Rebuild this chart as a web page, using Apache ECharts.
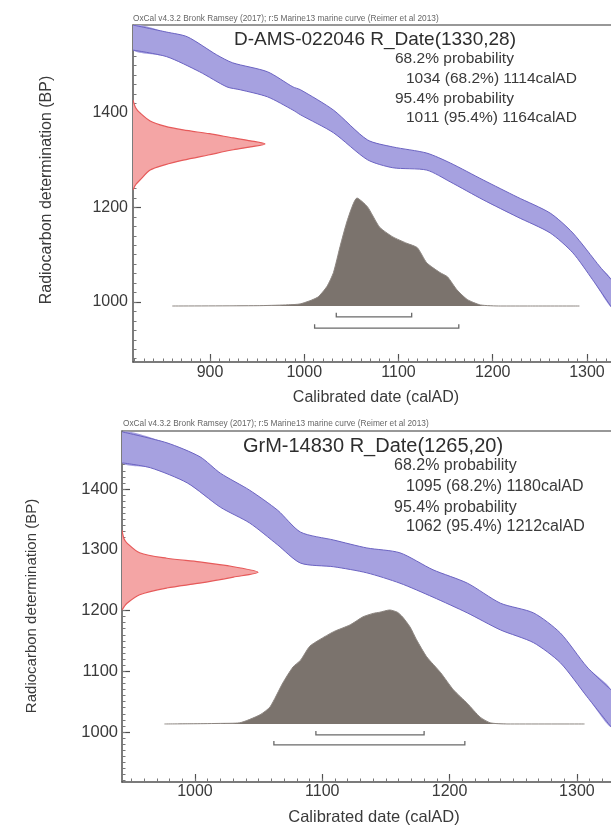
<!DOCTYPE html>
<html><head><meta charset="utf-8">
<script src="https://cdn.jsdelivr.net/npm/echarts@6/dist/echarts.min.js"></script>
<style>html,body{margin:0;padding:0;background:#fff}#c{width:611px;height:832px}</style>
</head><body><div id="c"></div>
<script>
// ---------- text ----------
const oxcalText = 'OxCal v4.3.2 Bronk Ramsey (2017); r:5 Marine13 marine curve (Reimer et al 2013)';
const xName = 'Calibrated date (calAD)';
const yName = 'Radiocarbon determination (BP)';
const topTitle = 'D-AMS-022046 R_Date(1330,28)';
const topLines = ['68.2% probability', '1034 (68.2%) 1114calAD', '95.4% probability', '1011 (95.4%) 1164calAD'];
const botTitle = 'GrM-14830 R_Date(1265,20)';
const botLines = ['68.2% probability', '1095 (68.2%) 1180calAD', '95.4% probability', '1062 (95.4%) 1212calAD'];

// ---------- ticks ----------
const topXTicks = [900, 1000, 1100, 1200, 1300];
const topYTicks = [1000, 1200, 1400];
const botXTicks = [1000, 1100, 1200, 1300];
const botYTicks = [1000, 1100, 1200, 1300, 1400];

// ---------- top chart data (D-AMS-022046) ----------
const topUpperYears = [818, 854, 876, 907, 924, 961, 988, 996, 1031, 1067, 1094, 1130, 1155, 1190, 1226, 1261, 1285, 1314, 1326];
const topUpperBP    = [1586, 1571, 1561, 1523, 1506, 1487, 1455, 1449, 1406, 1343, 1328, 1315, 1294, 1258, 1222, 1188, 1146, 1074, 1047];
const topLowerYears = [818, 854, 889, 918, 932, 961, 988, 996, 1031, 1067, 1094, 1130, 1155, 1190, 1226, 1261, 1285, 1306, 1326];
const topLowerBP    = [1533, 1519, 1487, 1455, 1449, 1434, 1406, 1396, 1358, 1301, 1284, 1279, 1254, 1216, 1180, 1146, 1104, 1047, 989];
const topRedBP      = [1427, 1411, 1400, 1383, 1372, 1364, 1356, 1347, 1341, 1334, 1328, 1322, 1311, 1300, 1290, 1279, 1258, 1248, 1237];
const topRedDensity = [0, 0.02, 0.053, 0.13, 0.24, 0.38, 0.58, 0.76, 0.89, 1.0, 0.89, 0.76, 0.57, 0.38, 0.24, 0.13, 0.053, 0.02, 0];
const topCalYears   = [860, 950, 980, 996, 1014, 1024, 1031, 1038, 1046, 1056, 1067, 1080, 1094, 1109, 1120, 1130, 1144, 1152, 1162, 1173, 1187, 1208, 1240, 1292];
const topCalDensity = [0, 0.003, 0.01, 0.02, 0.08, 0.18, 0.31, 0.55, 0.80, 1.0, 0.92, 0.73, 0.64, 0.58, 0.54, 0.40, 0.31, 0.27, 0.15, 0.06, 0.01, 0, 0, 0];
const topRange68 = [1034, 1114];
const topRange95 = [1011, 1164];

// ---------- bottom chart data (GrM-14830) ----------
const botUpperYears = [943, 978, 1004, 1020, 1043, 1065, 1083, 1109, 1135, 1161, 1187, 1214, 1240, 1266, 1287, 1308, 1327];
const botUpperBP    = [1494, 1476, 1453, 1426, 1398, 1365, 1329, 1316, 1303, 1295, 1267, 1245, 1212, 1196, 1163, 1107, 1069];
const botLowerYears = [943, 965, 994, 1020, 1043, 1065, 1083, 1109, 1135, 1161, 1187, 1214, 1240, 1266, 1287, 1308, 1327];
const botLowerBP    = [1443, 1435, 1410, 1370, 1344, 1308, 1278, 1272, 1262, 1245, 1222, 1196, 1168, 1147, 1114, 1058, 1008];
const botRedBP      = [1332, 1318, 1311, 1295, 1286, 1280, 1272, 1263, 1255, 1245, 1237, 1226, 1212, 1206, 1201];
const botRedDensity = [0, 0.015, 0.037, 0.13, 0.33, 0.57, 0.82, 1.0, 0.82, 0.57, 0.33, 0.13, 0.037, 0.015, 0];
const botCalYears   = [976, 1000, 1020, 1035, 1051, 1059, 1069, 1077, 1083, 1090, 1098, 1109, 1122, 1132, 1140, 1145, 1153, 1159, 1163, 1169, 1174, 1182, 1193, 1203, 1214, 1224, 1232, 1245, 1306];
const botCalDensity = [0, 0.002, 0.005, 0.01, 0.08, 0.15, 0.36, 0.50, 0.56, 0.68, 0.74, 0.81, 0.87, 0.94, 0.97, 0.98, 1.0, 0.98, 0.94, 0.85, 0.74, 0.59, 0.45, 0.30, 0.18, 0.06, 0.01, 0, 0];
const botRange68 = [1095, 1180];
const botRange95 = [1062, 1212];

// ---------- styles ----------
const FONT = 'Liberation Sans, Arial, sans-serif';
const TXT = '#3a3a3a';
const AX = '#505050';
const BAND_FILL = '#a6a1e0', BAND_EDGE = '#6b63c2';
const RED_FILL = '#f4a5a5', RED_EDGE = '#e65a5a';
const GRAY_FILL = '#7b736d';

const chart = echarts.init(document.getElementById('c'), null, {renderer: 'canvas'});

function range(a, b, s) { const r = []; for (let v = a; v <= b + 1e-9; v += s) r.push(v); return r; }

function zipPts(api, xs, ys) { return xs.map((x, i) => api.coord([x, ys[i]])); }

function bandSeries(xi, yi, uX, uY, lX, lY) {
  return {
    type: 'custom', xAxisIndex: xi, yAxisIndex: yi, clip: true, z: 2,
    data: [[uX[0], uY[0]]],
    renderItem: (p, api) => {
      const up = zipPts(api, uX, uY), lo = zipPts(api, lX, lY);
      return {type: 'group', children: [
        {type: 'polygon', shape: {points: up.concat(lo.slice().reverse()), smooth: 0.25}, style: {fill: BAND_FILL}},
        {type: 'polyline', shape: {points: up, smooth: 0.25}, style: {fill: 'none', stroke: BAND_EDGE, lineWidth: 1}},
        {type: 'polyline', shape: {points: lo, smooth: 0.25}, style: {fill: 'none', stroke: BAND_EDGE, lineWidth: 1}}
      ]};
    }
  };
}

function redSeries(xi, yi, dens, bp) {
  return {
    type: 'custom', xAxisIndex: xi, yAxisIndex: yi, clip: true, z: 3,
    data: [[0, bp[0]]],
    renderItem: (p, api) => {
      const pts = zipPts(api, dens, bp);
      return {type: 'group', children: [
        {type: 'polygon', shape: {points: pts, smooth: 0.3}, style: {fill: RED_FILL}},
        {type: 'polyline', shape: {points: pts, smooth: 0.3}, style: {fill: 'none', stroke: RED_EDGE, lineWidth: 1.2}}
      ]};
    }
  };
}

function calSeries(xi, yi, yrs, dens) {
  return {
    type: 'line', xAxisIndex: xi, yAxisIndex: yi, z: 4, symbol: 'none', smooth: 0.2,
    data: yrs.map((y, i) => [y, dens[i]]),
    lineStyle: {color: '#8d8681', width: 1},
    areaStyle: {color: GRAY_FILL, opacity: 1}
  };
}

function bracketSeries(xi, yi, r68, r95, lev68, lev95, cap) {
  return {
    type: 'custom', xAxisIndex: xi, yAxisIndex: yi, z: 5,
    data: [[r68[0], r68[1], lev68], [r95[0], r95[1], lev95]],
    renderItem: (p, api) => {
      const a = api.coord([api.value(0), api.value(2)]);
      const b = api.coord([api.value(1), api.value(2)]);
      return {type: 'polyline', shape: {points: [[a[0], a[1] - cap], a, b, [b[0], b[1] - cap]]},
        style: {fill: 'none', stroke: '#6a6a6a', lineWidth: 1.3}};
    }
  };
}

const plain = v => String(v);

function axesFor(g, xMin, xMax, yMin, yMax, xTicks, yTicks, yMinorStep, redMax, grayMin, grayMax, labelSize, yLabelSize, xMargin, yMargin) {
  const lab = {color: TXT, fontFamily: FONT, formatter: plain};
  const xs = [
    {type: 'value', gridIndex: g, min: xMin, max: xMax, position: 'bottom',
     axisLine: {show: true, onZero: false, lineStyle: {color: AX, width: 1.5}},
     axisTick: {show: true, inside: true, length: 8, customValues: xTicks, lineStyle: {color: AX, width: 1.2}},
     axisLabel: Object.assign({customValues: xTicks, fontSize: labelSize, margin: xMargin}, lab),
     splitLine: {show: false}},
    {type: 'value', gridIndex: g, min: xMin, max: xMax, position: 'bottom',
     axisLine: {show: false, onZero: false},
     axisTick: {show: true, inside: true, length: 3.5, customValues: range(Math.ceil(xMin / 10) * 10, xMax, 10), lineStyle: {color: '#777', width: 1}},
     axisLabel: {show: false}, splitLine: {show: false}},
    {type: 'value', gridIndex: g, min: xMin, max: xMax, position: 'top',
     axisLine: {show: true, onZero: false, lineStyle: {color: '#777', width: 1.5}},
     axisTick: {show: false}, axisLabel: {show: false}, splitLine: {show: false}},
    {type: 'value', gridIndex: g, min: 0, max: redMax, show: false, axisLine: {onZero: false}}
  ];
  const ys = [
    {type: 'value', gridIndex: g, min: yMin, max: yMax, position: 'left',
     axisLine: {show: true, onZero: false, lineStyle: {color: AX, width: 1.5}},
     axisTick: {show: true, inside: true, length: 8, customValues: yTicks, lineStyle: {color: AX, width: 1.2}},
     axisLabel: Object.assign({customValues: yTicks, fontSize: yLabelSize, margin: yMargin}, lab),
     splitLine: {show: false}},
    {type: 'value', gridIndex: g, min: yMin, max: yMax, position: 'left',
     axisLine: {show: false, onZero: false},
     axisTick: {show: true, inside: true, length: 3.5, customValues: range(Math.ceil(yMin / yMinorStep) * yMinorStep, yMax, yMinorStep), lineStyle: {color: '#777', width: 1}},
     axisLabel: {show: false}, splitLine: {show: false}},
    {type: 'value', gridIndex: g, min: grayMin, max: grayMax, show: false, axisLine: {onZero: false}}
  ];
  return {xs, ys};
}

const A0 = axesFor(0, 818.3, 1325.5, 873, 1586, topXTicks, topYTicks, 20, 3.62, -0.5185, 2.602, 16, 16, 3, 5);
const A1 = axesFor(1, 942.7, 1326.8, 917.7, 1495.5, botXTicks, botYTicks, 10, 3.596, -0.509, 2.570, 16, 16.5, 2, 4);

function txt(x, y, text, size, opts) {
  return Object.assign({type: 'text', x, y, silent: true,
    style: Object.assign({text, fontSize: size, fontFamily: FONT, fill: TXT, textAlign: 'left', textVerticalAlign: 'middle'}, (opts && opts.style) || {})},
    opts && opts.rotation ? {rotation: opts.rotation} : {});
}

const graphics = [
  txt(133, 19, oxcalText, 8.3, {style: {fill: '#666'}}),
  txt(375, 40, topTitle, 19, {style: {textAlign: 'center', fill: '#2e2e2e'}}),
  txt(395, 59, topLines[0], 15.5),
  txt(406, 79, topLines[1], 15.5),
  txt(395, 99, topLines[2], 15.5),
  txt(406, 118, topLines[3], 15.5),
  txt(47, 190, yName, 16, {rotation: Math.PI / 2, style: {textAlign: 'center'}}),
  txt(376, 398, xName, 16, {style: {textAlign: 'center'}}),

  txt(123, 424, oxcalText, 8.3, {style: {fill: '#666'}}),
  txt(373, 446, botTitle, 20, {style: {textAlign: 'center', fill: '#2e2e2e'}}),
  txt(394, 466, botLines[0], 16),
  txt(406, 487, botLines[1], 16),
  txt(394, 508, botLines[2], 16),
  txt(406, 527, botLines[3], 16),
  txt(32, 606, yName, 15, {rotation: Math.PI / 2, style: {textAlign: 'center'}}),
  txt(374, 817, xName, 16.5, {style: {textAlign: 'center'}})
];

chart.setOption({
  backgroundColor: '#fff',
  animation: false,
  grid: [
    {left: 133, top: 25, width: 478, height: 337},
    {left: 122, top: 431, width: 489, height: 351}
  ],
  xAxis: A0.xs.concat(A1.xs),
  yAxis: A0.ys.concat(A1.ys),
  series: [
    bandSeries(0, 0, topUpperYears, topUpperBP, topLowerYears, topLowerBP),
    redSeries(3, 0, topRedDensity, topRedBP),
    calSeries(0, 2, topCalYears, topCalDensity),
    bracketSeries(0, 2, topRange68, topRange95, -0.10, -0.205, 4),
    bandSeries(4, 3, botUpperYears, botUpperBP, botLowerYears, botLowerBP),
    redSeries(7, 3, botRedDensity, botRedBP),
    calSeries(4, 5, botCalYears, botCalDensity),
    bracketSeries(4, 5, botRange68, botRange95, -0.096, -0.184, 4)
  ],
  graphic: graphics
});
</script></body></html>
